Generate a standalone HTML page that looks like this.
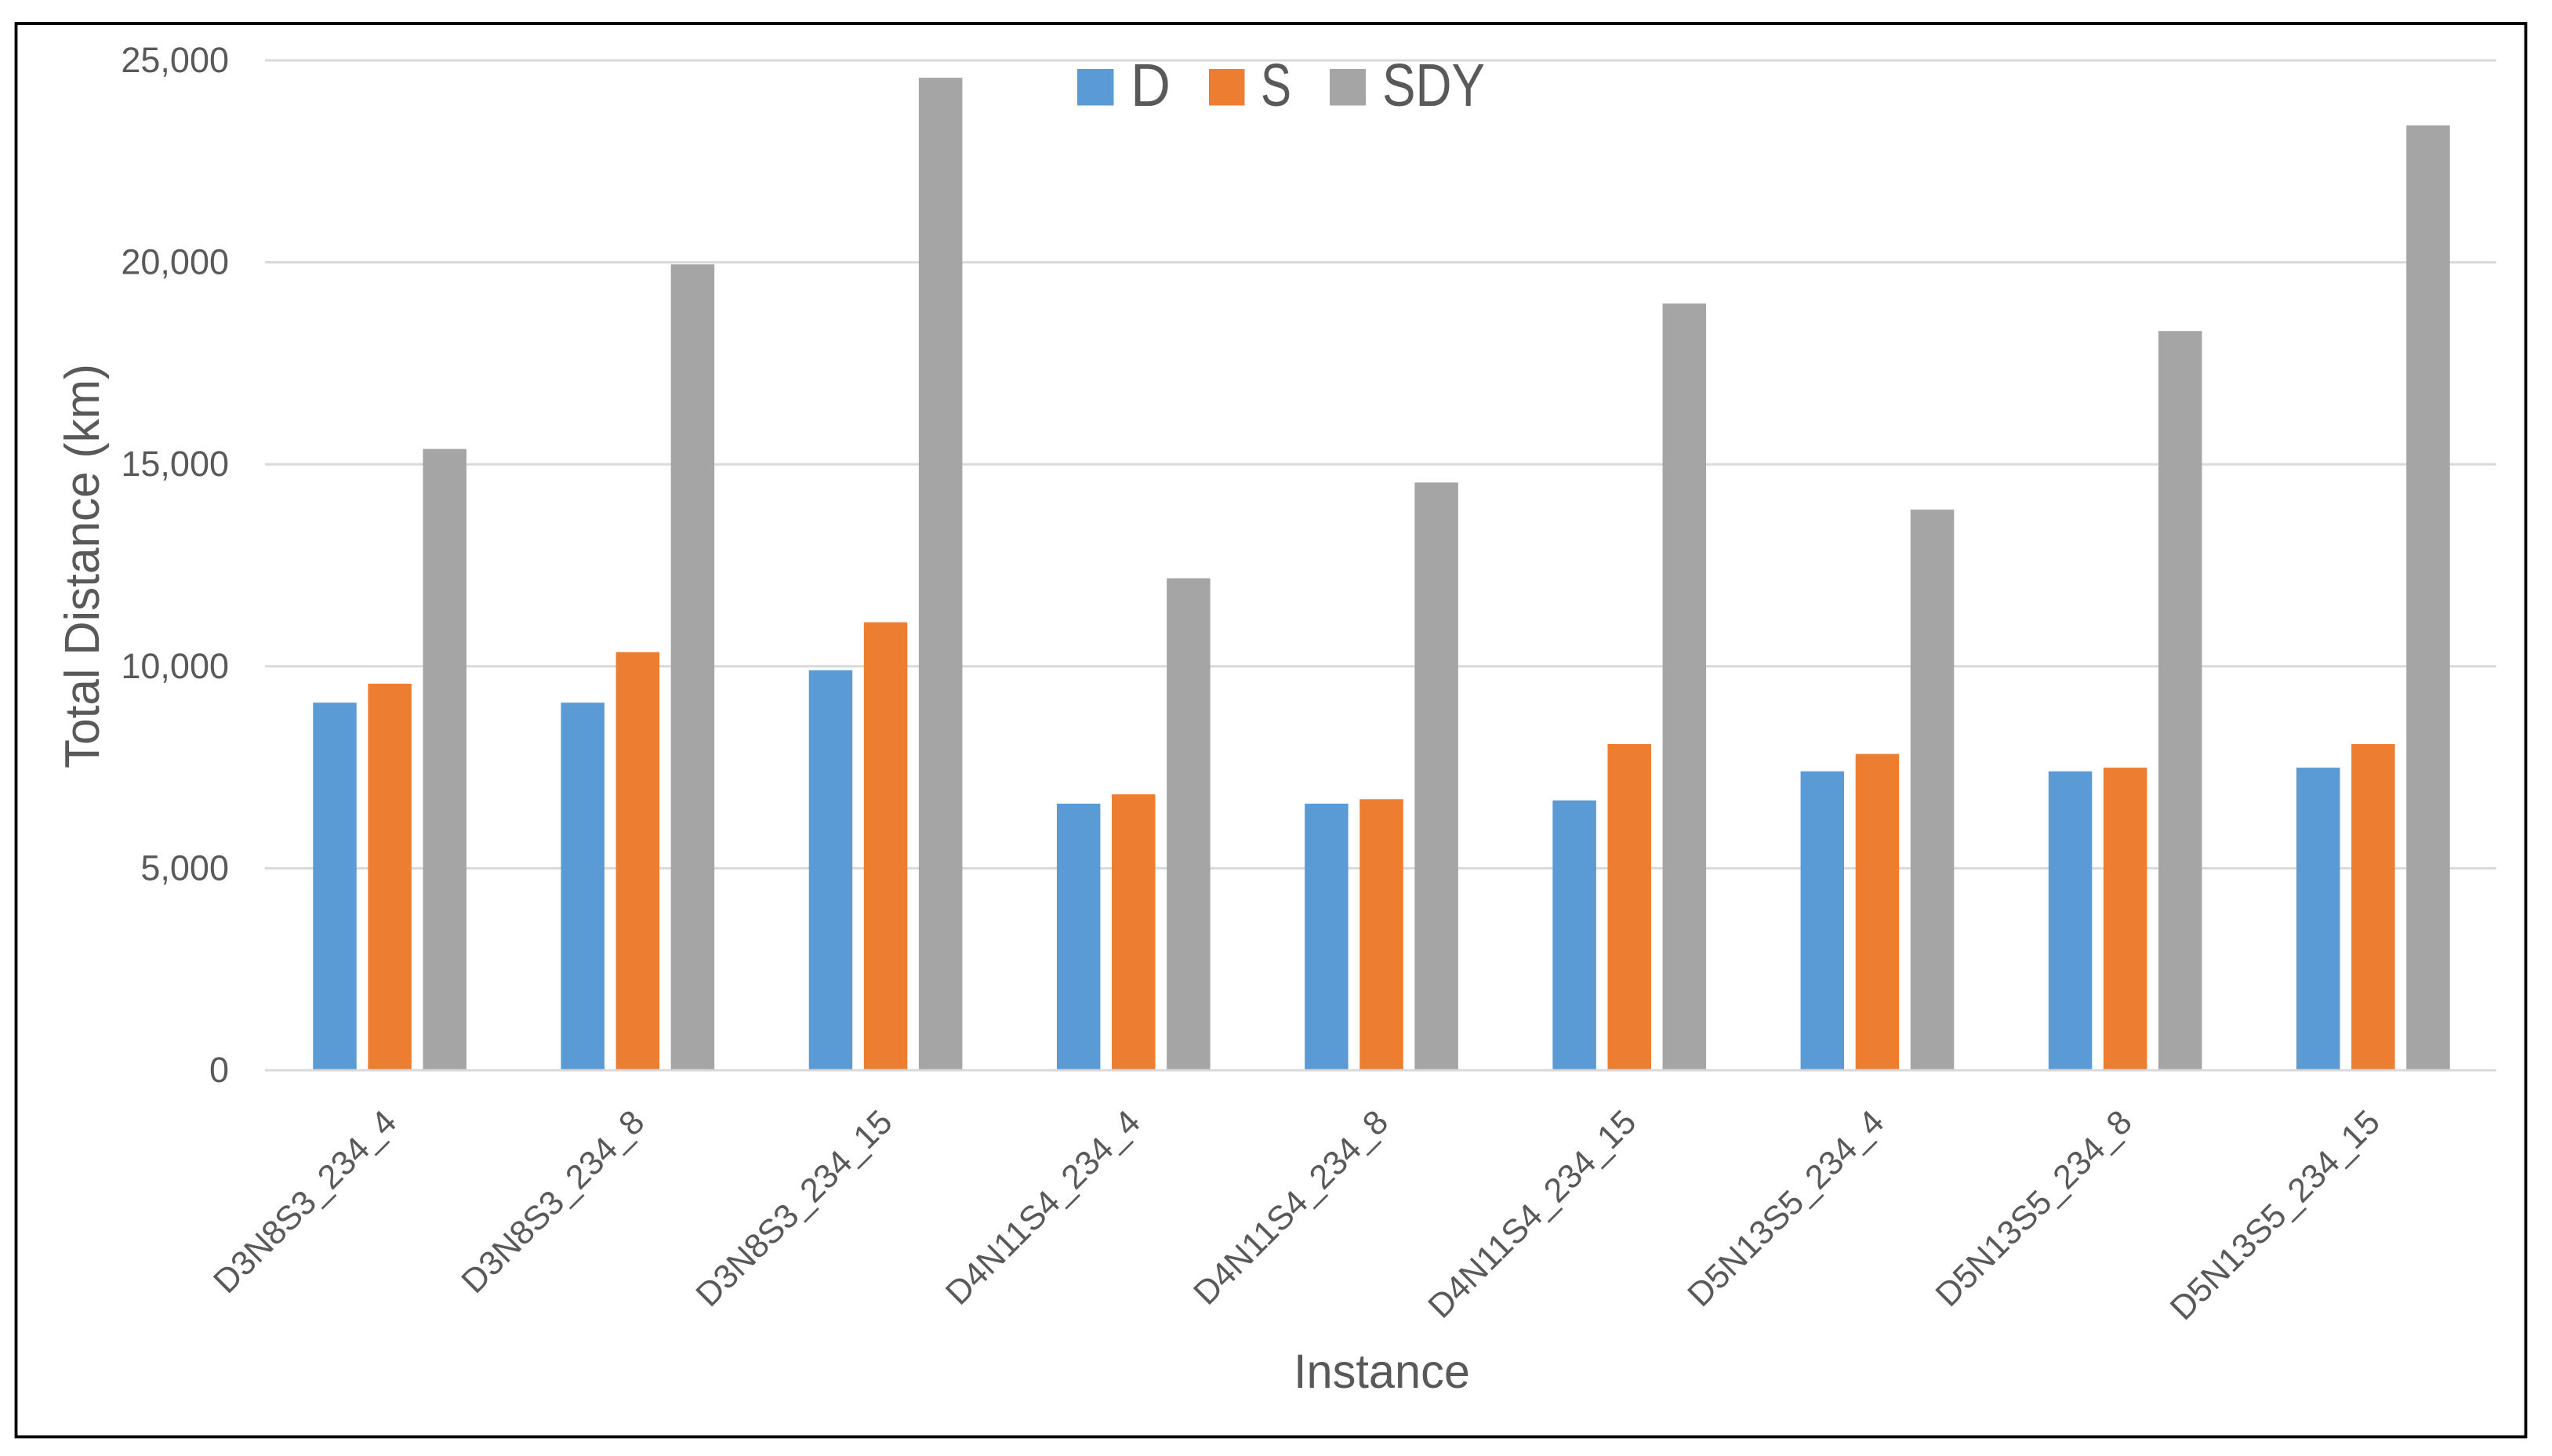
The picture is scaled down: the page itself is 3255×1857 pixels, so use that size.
<!DOCTYPE html>
<html lang="en">
<head>
<meta charset="utf-8">
<title>Total Distance by Instance</title>
<style>
html,body{margin:0;padding:0;background:#fff;}
svg{display:block;}
text{font-family:"Liberation Sans",sans-serif;fill:#595959;}
</style>
</head>
<body>
<svg id="chart" xmlns="http://www.w3.org/2000/svg" width="3255" height="1857" viewBox="0 0 3255 1857">
  <rect x="0" y="0" width="3255" height="1857" fill="#ffffff"/>
  <rect x="20.5" y="30" width="3201" height="1802.5" fill="#ffffff" stroke="#000000" stroke-width="3.8"/>
  <g id="grid"></g>
  <g id="yticks"></g>
  <g id="bars"></g>
  <g id="axis"></g>
  <text transform="translate(126,722) rotate(-90)" text-anchor="middle" font-size="62" textLength="516" lengthAdjust="spacingAndGlyphs">Total Distance (km)</text>
  <text x="1650" y="1770" font-size="61" textLength="225" lengthAdjust="spacingAndGlyphs">Instance</text>
  <g>
    <g>
      <rect x="1374" y="88" width="46.5" height="46.5" fill="#5B9BD5"/>
      <text x="1442" y="135" font-size="77" textLength="51" lengthAdjust="spacingAndGlyphs">D</text>
    </g>
    <g>
      <rect x="1542" y="88" width="45.5" height="46.5" fill="#ED7D31"/>
      <text x="1608" y="135" font-size="77" textLength="39" lengthAdjust="spacingAndGlyphs">S</text>
    </g>
    <g>
      <rect x="1696" y="88" width="46" height="46.5" fill="#A5A5A5"/>
      <text x="1763" y="135" font-size="77" textLength="131" lengthAdjust="spacingAndGlyphs">SDY</text>
    </g>
  </g>
</svg>
<script>
const categories = ["D3N8S3_234_4","D3N8S3_234_8","D3N8S3_234_15","D4N11S4_234_4","D4N11S4_234_8","D4N11S4_234_15","D5N13S5_234_4","D5N13S5_234_8","D5N13S5_234_15"];
const seriesD = [9100,9100,9900,6600,6600,6680,7400,7400,7490];
const seriesS = [9570,10350,11090,6830,6710,8075,7830,7490,8075];
const seriesSDY = [15380,19950,24570,12180,14550,18980,13880,18300,23390];
const seriesNames = ["d","s","sdy"];
const seriesColors = ["#5B9BD5","#ED7D31","#A5A5A5"];
const yTicks = [0,5000,10000,15000,20000,25000];

const NS = "http://www.w3.org/2000/svg";
const plotLeft = 338, plotRight = 3184, plotBottom = 1365, plotTop = 77, yMax = 25000;
const barWidth = 55.5, barStep = 70.1, barOffset = 1, lineWidth = 3;
const seriesList = [seriesD, seriesS, seriesSDY];

function yScale(v){ return plotBottom - (v / yMax) * (plotBottom - plotTop); }
function bandCenter(i){ return plotLeft + (plotRight - plotLeft) / categories.length * (i + 0.5); }
function make(tag, parent){ const el = document.createElementNS(NS, tag); parent.appendChild(el); return el; }
function formatTick(v){ return v.toLocaleString("en-US"); }

const grid = document.getElementById("grid");
const yticks = document.getElementById("yticks");
const bars = document.getElementById("bars");
const axis = document.getElementById("axis");

yTicks.forEach(function(t){
  const line = make("rect", t === 0 ? axis : grid);
  
  
  line.setAttribute("x", plotLeft);
  line.setAttribute("y", yScale(t) - lineWidth / 2);
  line.setAttribute("width", plotRight - plotLeft);
  line.setAttribute("height", lineWidth);
  line.setAttribute("fill", "#D9D9D9");

  const label = make("text", yticks);
  
  
  label.setAttribute("x", 292);
  label.setAttribute("y", yScale(t) + 15);
  label.setAttribute("text-anchor", "end");
  label.setAttribute("font-size", "45");
  label.textContent = formatTick(t);
});

categories.forEach(function(cat, i){
  seriesList.forEach(function(values, s){
    const bar = make("rect", bars);
    
    
    const cx = bandCenter(i) + barOffset + (s - 1) * barStep;
    bar.setAttribute("x", cx - barWidth / 2);
    bar.setAttribute("y", yScale(values[i]));
    bar.setAttribute("width", barWidth);
    bar.setAttribute("height", yScale(0) - yScale(values[i]));
    bar.setAttribute("fill", seriesColors[s]);
  });

  const tick = make("text", axis);
  
  
  tick.setAttribute("text-anchor", "end");
  tick.setAttribute("font-size", "43.3");
  tick.setAttribute("transform", "translate(" + (bandCenter(i) + 12) + ",1434) rotate(-45)");
  tick.textContent = cat;
});
</script>
</body>
</html>
